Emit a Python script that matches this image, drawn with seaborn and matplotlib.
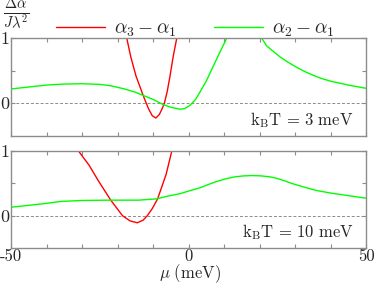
import matplotlib
matplotlib.use("Agg")
import matplotlib.pyplot as plt
import seaborn as sns
import pandas as pd

# ---------------- data ----------------
# k_B T = 3 meV
mu_red_3 = [-18.5, -17.4, -16.3, -14.8, -12.7, -11.2, -10.2, -9.2, -8.2, -7.5, -6.8, -6.0, -5.2, -4.3, -3.3, -2.8]
val_red_3 = [1.2, 1.0, 0.72, 0.42, 0.11, -0.09, -0.19, -0.225, -0.17, -0.09, 0.0, 0.18, 0.42, 0.72, 1.0, 1.2]

mu_green_3 = [-50, -45, -40, -35, -30, -25, -22, -18, -15, -12.7, -10, -7.1, -5, -2.4, -1, 0.4, 2, 3.2, 5,
              6.9, 9, 10.8, 12, 19.5, 20.6, 22, 24, 25.8, 28, 30.5, 33, 35.1, 37.5, 40, 42.5, 45, 47.5, 50]
val_green_3 = [0.22, 0.25, 0.28, 0.295, 0.30, 0.29, 0.27, 0.22, 0.17, 0.12, 0.06, -0.02, -0.06, -0.09, -0.08,
               -0.03, 0.06, 0.17, 0.34, 0.56, 0.80, 1.0, 1.15, 1.15, 1.0, 0.88, 0.79, 0.71, 0.63, 0.55, 0.48,
               0.43, 0.38, 0.34, 0.31, 0.28, 0.255, 0.23]

# k_B T = 10 meV
mu_red_10 = [-33, -31.0, -28, -25.4, -21.9, -18.6, -16.5, -14.4, -12.8, -11.6, -10.2, -8.7, -6.3, -4.7, -4.0]
val_red_10 = [1.15, 1.0, 0.78, 0.54, 0.24, 0.0, -0.08, -0.11, -0.07, 0.0, 0.11, 0.26, 0.64, 1.0, 1.2]

mu_green_10 = [-50, -45, -40, -36, -30, -22, -14, -9, -6, -2.4, 0, 3.2, 5.5, 8, 10.5, 13, 15.5, 18, 20.5, 23,
               25, 27, 29, 31.4, 34, 36, 38, 40, 42.5, 45, 47.5, 50]
val_green_10 = [0.13, 0.16, 0.19, 0.22, 0.235, 0.24, 0.24, 0.26, 0.30, 0.34, 0.38, 0.43, 0.48, 0.53, 0.57, 0.60,
                0.615, 0.62, 0.615, 0.60, 0.575, 0.54, 0.50, 0.46, 0.42, 0.39, 0.37, 0.35, 0.33, 0.31, 0.29, 0.27]

series_labels = [r"$\alpha_3-\alpha_1$", r"$\alpha_2-\alpha_1$"]
panel_labels = [r"$\mathrm{k_BT\,=\,3\ meV}$", r"$\mathrm{k_BT\,=\,10\ meV}$"]
x_ticklabels = ["-50", "", "", "", "", "0", "", "", "", "", "50"]
y_ticklabels = ["0", "", "1"]

# ---------------- style ----------------
sns.set_style("ticks")
plt.rcParams["font.family"] = ["cmr10", "DejaVu Serif"]
plt.rcParams["mathtext.fontset"] = "cm"
plt.rcParams["axes.unicode_minus"] = False
plt.rcParams["axes.formatter.use_mathtext"] = True

RED = "#ff0000"
GREEN = "#00ff00"
GRAY = "#8c8c8c"
FS = 12

fig = plt.figure(figsize=(3.74, 2.83), dpi=100)
ax_top = fig.add_axes([11/374, 1-136/283, 355/374, 98/283])
ax_bot = fig.add_axes([11/374, 1-248/283, 355/374, 97/283])

panels = [
    (ax_top, mu_red_3, val_red_3, mu_green_3, val_green_3, panel_labels[0]),
    (ax_bot, mu_red_10, val_red_10, mu_green_10, val_green_10, panel_labels[1]),
]

for i, (ax, mr, vr, mg, vg, lab) in enumerate(panels):
    ax.axhline(0, color=GRAY, lw=0.7, ls=(0, (3, 2)), zorder=1)
    dr = pd.DataFrame({"mu": mr, "v": vr})
    dg = pd.DataFrame({"mu": mg, "v": vg})
    sns.lineplot(data=dr, x="mu", y="v", ax=ax, color=RED, lw=1.0, sort=False,
                 estimator=None, label=series_labels[0] if i == 0 else None, legend=False)
    sns.lineplot(data=dg, x="mu", y="v", ax=ax, color=GREEN, lw=1.0, sort=False,
                 estimator=None, label=series_labels[1] if i == 0 else None, legend=False)
    ax.set_xlim(-50, 50)
    ax.set_ylim(-0.5, 1)
    ax.set_xticks(range(-50, 51, 10))
    ax.set_yticks([0, 0.5, 1])
    ax.set_yticklabels(y_ticklabels, fontsize=FS + 1)
    ax.set_xlabel("")
    ax.set_ylabel("")
    ax.tick_params(direction="in", length=3, width=0.8, color=GRAY, top=True, right=True,
                   pad=1.5)
    for s in ax.spines.values():
        s.set_color(GRAY)
        s.set_linewidth(1.0)
    ax.text(0.965, 0.16, lab, transform=ax.transAxes, ha="right", va="center", fontsize=FS)

ax_top.set_xticklabels([])
ax_bot.set_xticklabels(x_ticklabels, fontsize=FS)
ax_bot.tick_params(axis="x", pad=0.5)
ax_bot.set_xlabel("")
fig.text(190/374, 1-274/283, r"$\mu\ \mathrm{(meV)}$", ha="center", va="center", fontsize=FS)

fig.text(16/374, 1-14.5/283, r"$\frac{\Delta\alpha}{J\lambda^2}$", ha="center", va="center", fontsize=FS + 3)

handles, labels = ax_top.get_legend_handles_labels()
fig.legend(handles, labels, loc="center", bbox_to_anchor=(0.523, 1-29/283), ncol=2,
           frameon=False, fontsize=FS + 2, handlelength=2.5, handletextpad=0.5, columnspacing=1.9,
           borderpad=0)

fig.savefig("out.png", dpi=100)
